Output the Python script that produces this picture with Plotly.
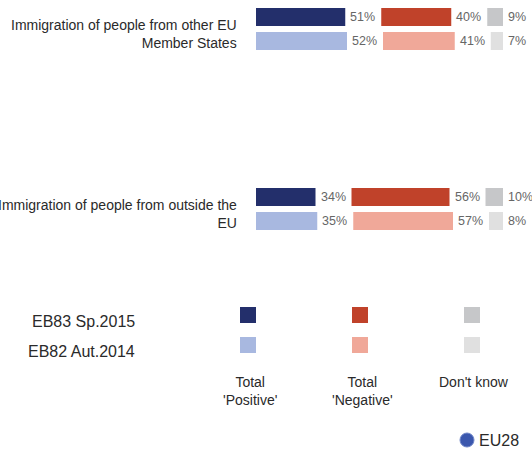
import plotly.graph_objects as go

# ---- data ----
categories = ["Immigration of people from other EU<br>Member States",
              "Immigration of people from outside the<br>EU"]
waves = ["EB83 Sp.2015", "EB82 Aut.2014"]
answer_labels = ["Total<br>'Positive'", "Total<br>'Negative'", "Don't know"]
positive = {"EB83 Sp.2015": [51, 34], "EB82 Aut.2014": [52, 35]}
negative = {"EB83 Sp.2015": [40, 56], "EB82 Aut.2014": [41, 57]}
dont_know = {"EB83 Sp.2015": [9, 10], "EB82 Aut.2014": [7, 8]}

# ---- styles ----
W, H = 532, 453
FONT = "Liberation Sans, Arial, sans-serif"
colors = {
    "EB83 Sp.2015": ["#232f6b", "#c0422a", "#c6c7c9"],
    "EB82 Aut.2014": ["#a8b8e0", "#f0a899", "#e0e0e0"],
}
K = 1.75          # px per percentage point
X0 = 256          # px where bars start
GAP = 36 / K      # label gap between segments (in % units)
PXY = 180         # px per group unit
Y0 = 29           # px of first group centre
OFF = 12 / PXY    # wave offset within group
BW = 18 / PXY     # bar thickness

fig = go.Figure()
group_pos = list(range(len(categories)))

for wi, w in enumerate(waves):
    ys = [g + (-OFF if wi == 0 else OFF) for g in group_pos]
    segs = [positive[w], negative[w], dont_know[w]]
    starts = [[0] * len(categories)]
    for s in range(1, 3):
        starts.append([starts[s - 1][i] + segs[s - 1][i] + GAP for i in range(len(categories))])
    for s in range(3):
        fig.add_trace(go.Bar(
            orientation="h", y=ys, x=segs[s], base=starts[s], width=BW,
            marker=dict(color=colors[w][s], line=dict(width=0)),
            showlegend=False, hoverinfo="skip"))
        for i in range(len(categories)):
            fig.add_annotation(
                x=starts[s][i] + segs[s][i], y=ys[i], xref="x", yref="y",
                text=f"{segs[s][i]}%", showarrow=False, xanchor="left", yanchor="middle",
                xshift=3, font=dict(family=FONT, size=12.5, color="#666666"))

for g, cat in zip(group_pos, categories):
    fig.add_annotation(x=239 / W, xref="paper", y=g, yref="y", text=cat,
                       showarrow=False, xanchor="right", yanchor="middle", align="right",
                       yshift=-5, font=dict(family=FONT, size=14, color="#2a2a2a"))

# ---- legend block ----
def px(x):
    return x / W

def py(y):
    return 1 - y / H

leg_x = [248, 360, 472]
leg_y = [315, 345]
for wi, w in enumerate(waves):
    for s in range(3):
        fig.add_shape(type="rect", xref="paper", yref="paper",
                      x0=px(leg_x[s] - 8), x1=px(leg_x[s] + 8),
                      y0=py(leg_y[wi] + 8), y1=py(leg_y[wi] - 8),
                      fillcolor=colors[w][s], line=dict(width=0))
    fig.add_annotation(x=px(137), y=py(leg_y[wi] + 6), xref="paper", yref="paper",
                       text=w, showarrow=False, xanchor="right", yanchor="middle",
                       font=dict(family=FONT, size=16, color="#2a2a2a"))
for s in range(3):
    fig.add_annotation(x=px(leg_x[s] + 2), y=py(372), xref="paper", yref="paper",
                       text=answer_labels[s], showarrow=False, xanchor="center", yanchor="top",
                       align="center", font=dict(family=FONT, size=14, color="#2a2a2a"))

# EU28 badge
fig.add_shape(type="circle", xref="paper", yref="paper",
              x0=px(460), x1=px(474), y0=py(447), y1=py(433),
              fillcolor="#3b57ad", line=dict(color="#6f86c8", width=1))
fig.add_annotation(x=px(477), y=py(440), xref="paper", yref="paper", text="EU28",
                   showarrow=False, xanchor="left", yanchor="middle",
                   font=dict(family=FONT, size=16, color="#2a2a2a"))

fig.update_layout(
    width=W, height=H, margin=dict(l=0, r=0, t=0, b=0),
    paper_bgcolor="white", plot_bgcolor="white", barmode="overlay",
    xaxis=dict(range=[-X0 / K, (W - X0) / K], visible=False, fixedrange=True),
    yaxis=dict(range=[(H - Y0) / PXY, -Y0 / PXY], visible=False, fixedrange=True),
)
fig.write_html("out.html")
